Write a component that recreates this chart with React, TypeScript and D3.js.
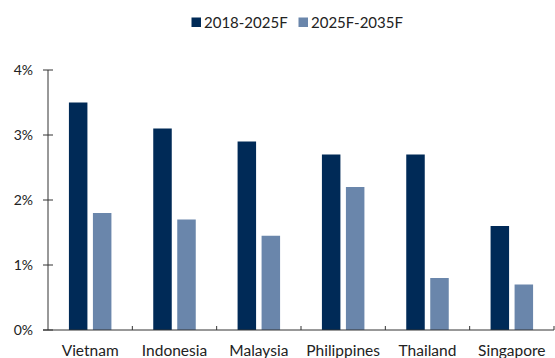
import React from "react";
import * as d3 from "d3";

const categories = ["Vietnam", "Indonesia", "Malaysia", "Philippines", "Thailand", "Singapore"];
const seriesNames = ["2018-2025F", "2025F-2035F"];
const series1 = [3.5, 3.1, 2.9, 2.7, 2.7, 1.6];
const series2 = [1.8, 1.7, 1.45, 2.2, 0.8, 0.7];
const yTicks = [0, 1, 2, 3, 4];
const colors = ["#002a57", "#6a86ab"];

export default function App() {
  const W = 555, H = 358;
  const left = 48, right = 554, top = 70, bottom = 330;
  const x = d3.scaleBand<string>().domain(categories).range([left, right]);
  const y = d3.scaleLinear().domain([0, 4]).range([bottom, top]);
  const barW = 18.5, gap = 5.5;
  const font = "'Lato', 'Noto Sans', sans-serif";
  const textColor = "#222";
  return (
    <svg width={W} height={H} style={{ position: "absolute", left: 0, top: 0 }} fontFamily={font}>
      <rect width={W} height={H} fill="#fff" />
      {/* legend */}
      {seriesNames.map((s, i) => {
        const lx = [191.5, 298.5][i];
        return (
          <g key={s}>
            <rect x={lx} y={17.5} width={9.5} height={9.5} fill={colors[i]} />
            <text x={lx + 12.5} y={27.5} fontSize={15} fill={textColor}>{s}</text>
          </g>
        );
      })}
      {/* bars */}
      {categories.map((c, i) => {
        const bx = x(c)! + (x.bandwidth() - (2 * barW + gap)) / 2;
        return (
          <g key={c}>
            <rect x={bx} y={y(series1[i])} width={barW} height={bottom - y(series1[i])} fill={colors[0]} />
            <rect x={bx + barW + gap} y={y(series2[i])} width={barW} height={bottom - y(series2[i])} fill={colors[1]} />
          </g>
        );
      })}
      {/* y axis */}
      <line x1={left} x2={left} y1={top} y2={bottom} stroke="#333" strokeWidth={1} />
      {yTicks.map((t) => (
        <g key={t}>
          <line x1={left - 5} x2={left + 5} y1={y(t)} y2={y(t)} stroke="#333" />
          <text x={33} y={y(t) + 5} fontSize={14} textAnchor="end" fill={textColor}>{t}%</text>
        </g>
      ))}
      {/* x axis */}
      <line x1={left - 5} x2={right} y1={bottom} y2={bottom} stroke="#333" />
      {categories.map((c) => (
        <g key={c}>
          <line x1={x(c)! + x.bandwidth()} x2={x(c)! + x.bandwidth()} y1={bottom} y2={bottom - 4} stroke="#333" />
          <text x={x(c)! + x.bandwidth() / 2} y={355.5} fontSize={15.5} textAnchor="middle" fill={textColor}>{c}</text>
        </g>
      ))}
    </svg>
  );
}
